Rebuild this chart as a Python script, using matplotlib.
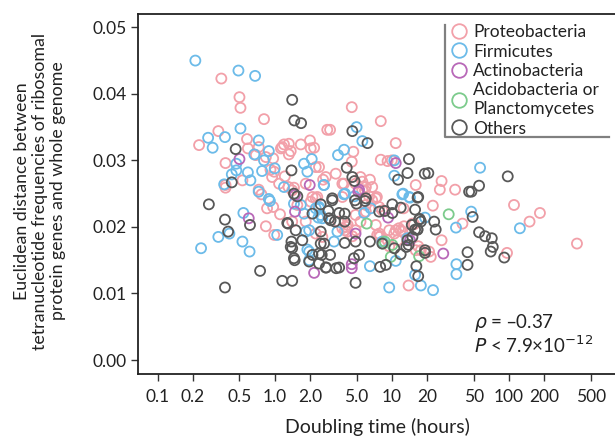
import numpy as np
import matplotlib
matplotlib.use("Agg")
from matplotlib import pyplot as plt
from matplotlib.lines import Line2D

plt.rcParams['font.family'] = ['Lato', 'DejaVu Sans']
plt.rcParams['mathtext.fontset'] = 'dejavusans'

# doubling time (hours), distance
proteo_x = [0.35, 0.50, 0.51, 0.81, 2.81, 0.33, 0.226, 0.58, 0.59, 0.73, 0.69, 0.84, 0.97, 0.38,
            0.53, 0.38, 0.38, 0.92, 0.95, 0.99, 1.16, 1.20, 1.32, 1.37, 1.32, 1.13, 1.67, 2.0,
            2.03, 2.17, 2.24, 2.59, 1.22, 1.31, 1.09, 1.46, 1.41, 1.84, 2.1, 2.31, 0.73, 0.77,
            4.55, 8.05, 2.97, 10.8, 4.69, 4.55, 8.05, 9.2, 10.0, 3.32, 5.4, 6.5, 5.6, 4.9,
            16.0, 26.6, 25.7, 34.7, 2.39, 3.9, 6.0, 5.6, 7.45, 3.78, 5.9, 6.4, 7.3, 6.0,
            22.4, 12.6, 8.3, 40.1, 110.5, 150, 184, 381, 96.3, 26.6, 20.8, 21.5, 13.9, 9.5,
            10.8, 9.5, 11.9, 7.8, 16.0, 17.7, 16.8, 15.5, 11.5, 10.5, 7.3, 7.5, 3.98, 4.9,
            4.2, 3.49, 4.1, 4.17, 4.9, 5.4, 4.6, 7.95, 12.7, 15.0, 9.2, 11.2, 12.3, 0.84,
            0.99, 0.86, 0.97, 1.11, 1.56, 2.03, 2.24, 1.41, 1.84, 2.24, 2.55, 2.73, 3.78, 6.8,
            6.8, 7.8, 6.0, 7.8, 3.78]
proteo_y = [0.0423, 0.0395, 0.0379, 0.0362, 0.0346, 0.0344, 0.0323, 0.0332, 0.0318, 0.0320, 0.0308, 0.0305, 0.0303, 0.0296,
            0.0270, 0.0263, 0.0259, 0.0286, 0.0275, 0.0283, 0.0320, 0.0324, 0.0325, 0.0314, 0.0309, 0.0318, 0.0324, 0.0330,
            0.0318, 0.0319, 0.0290, 0.0271, 0.0276, 0.0260, 0.0265, 0.0259, 0.0255, 0.0265, 0.0245, 0.0245, 0.0256, 0.0249,
            0.0380, 0.0359, 0.0346, 0.0326, 0.0313, 0.0298, 0.0301, 0.0299, 0.0300, 0.0280, 0.0275, 0.0271, 0.0268, 0.0265,
            0.0263, 0.0269, 0.0256, 0.0256, 0.0290, 0.0265, 0.0260, 0.0255, 0.0245, 0.0245, 0.0255, 0.0246, 0.0243, 0.0233,
            0.0232, 0.0228, 0.0225, 0.0205, 0.0233, 0.0208, 0.0221, 0.0175, 0.0161, 0.0180, 0.0163, 0.0155, 0.0112, 0.0171,
            0.0195, 0.0195, 0.0195, 0.0185, 0.0165, 0.0165, 0.0171, 0.0204, 0.0198, 0.0190, 0.0203, 0.0188, 0.0195, 0.0195,
            0.0203, 0.0208, 0.0200, 0.0193, 0.0218, 0.0208, 0.0186, 0.0186, 0.0201, 0.0205, 0.0180, 0.0180, 0.0193, 0.0201,
            0.0188, 0.0228, 0.0230, 0.0219, 0.0233, 0.0238, 0.0243, 0.0208, 0.0208, 0.0190, 0.0185, 0.0275, 0.0265, 0.0260,
            0.0240, 0.0230, 0.0223, 0.0190, 0.0198]

firmi_x = [0.21, 0.49, 0.68, 0.51, 0.27, 0.295, 0.376, 0.73, 0.89, 0.67, 0.81, 0.47, 0.47, 0.43,
           0.59, 0.62, 0.37, 0.78, 1.0, 1.78, 1.90, 2.07, 1.2, 2.64, 0.89, 5.0, 5.6, 3.47,
           3.91, 10.5, 10.5, 2.62, 3.9, 12.3, 14.1, 56.7, 3.98, 12.5, 14.3, 4.8, 5.8, 6.6,
           19.2, 47.6, 35.3, 124, 35.6, 35.6, 15.8, 17.7, 22.5, 9.5, 6.5, 10.8, 13.6, 2.39,
           2.55, 3.21, 3.43, 0.54, 0.33, 0.41, 0.53, 0.61, 0.235, 1.05, 0.91, 0.73, 1.46, 1.78,
           1.90, 1.97, 2.24, 2.36, 1.84, 1.97, 1.67, 2.39, 2.47, 1.97, 8.3]
firmi_y = [0.0450, 0.0435, 0.0427, 0.0348, 0.0334, 0.0319, 0.0335, 0.0330, 0.0314, 0.0309, 0.0300, 0.0295, 0.0285, 0.0279,
           0.0282, 0.0270, 0.0264, 0.0284, 0.0288, 0.0295, 0.0283, 0.0302, 0.0260, 0.0263, 0.0242, 0.0350, 0.0329, 0.0308,
           0.0316, 0.0300, 0.0277, 0.0263, 0.0249, 0.0249, 0.0245, 0.0289, 0.0250, 0.0250, 0.0244, 0.0246, 0.0221, 0.0228,
           0.0214, 0.0223, 0.0199, 0.0198, 0.0144, 0.0129, 0.0128, 0.0112, 0.0105, 0.0109, 0.0141, 0.0149, 0.0183, 0.0228,
           0.0213, 0.0178, 0.0193, 0.0221, 0.0185, 0.0190, 0.0178, 0.0163, 0.0168, 0.0188, 0.0239, 0.0253, 0.0235, 0.0220,
           0.0166, 0.0150, 0.0228, 0.0214, 0.0193, 0.0163, 0.0233, 0.0230, 0.0218, 0.0195, 0.0178]

actino_x = [0.50, 1.99, 10.8, 5.25, 5.17, 9.3, 27.5, 4.55, 4.55, 14.3, 4.9, 0.60, 1.49, 2.17, 1.49]
actino_y = [0.0302, 0.0263, 0.0296, 0.0256, 0.0253, 0.0214, 0.0160, 0.0144, 0.0138, 0.0180, 0.0190, 0.0213, 0.0223, 0.0131, 0.0248]

acido_x = [30.6, 9.8, 17.1, 8.4, 10.1, 6.1, 8.7]
acido_y = [0.0219, 0.0155, 0.0156, 0.0175, 0.0173, 0.0205, 0.0178]

other_x = [1.41, 1.47, 1.68, 0.464, 0.43, 1.39, 1.46, 1.56, 4.6, 6.2, 14.0, 4.12, 4.6, 4.8,
           11.3, 13.6, 19.1, 20.5, 45.7, 3.1, 6.0, 16.8, 97.7, 47.8, 55.6, 5.9, 4.85, 5.0,
           16.6, 10.1, 11.9, 15.8, 8.7, 7.8, 10.1, 3.96, 17.3, 16.6, 23.0, 23.7, 49, 55.6,
           62.5, 71.4, 72.8, 69.9, 91.2, 44.3, 44.3, 19.2, 16.2, 16.8, 7.95, 8.9, 6.5, 4.9,
           3.96, 4.9, 5.25, 4.75, 3.55, 11.9, 13.9, 13.6, 14.8, 17.1, 15.8, 3.55, 3.96, 2.47,
           2.87, 2.91, 3.27, 2.47, 2.64, 2.97, 2.75, 3.35, 2.52, 8.3, 10.5, 13.3, 15.0, 16.5,
           17.7, 19.2, 0.274, 0.376, 0.40, 0.615, 0.75, 0.376, 1.16, 1.41, 1.30, 1.41, 1.51, 1.48,
           1.72, 1.39, 2.1, 2.47, 2.39, 2.73, 1.97, 1.28, 1.37, 1.46, 2.1, 3.0, 3.1, 2.39]
other_y = [0.0391, 0.0360, 0.0356, 0.0317, 0.0267, 0.0285, 0.0250, 0.0246, 0.0344, 0.0326, 0.0302, 0.0289, 0.0275, 0.0269,
           0.0271, 0.0281, 0.0280, 0.0281, 0.0253, 0.0243, 0.0243, 0.0245, 0.0276, 0.0253, 0.0262, 0.0239, 0.0240, 0.0235,
           0.0244, 0.0234, 0.0229, 0.0226, 0.0224, 0.0223, 0.0221, 0.0220, 0.0212, 0.0196, 0.0208, 0.0196, 0.0215, 0.0192,
           0.0186, 0.0183, 0.0170, 0.0163, 0.0154, 0.0162, 0.0143, 0.0165, 0.0141, 0.0126, 0.0140, 0.0143, 0.0178, 0.0178,
           0.0176, 0.0116, 0.0158, 0.0153, 0.0139, 0.0159, 0.0173, 0.0180, 0.0203, 0.0211, 0.0196, 0.0221, 0.0208, 0.0234,
           0.0224, 0.0213, 0.0208, 0.0193, 0.0175, 0.0158, 0.0139, 0.0138, 0.0158, 0.0175, 0.0168, 0.0170, 0.0185, 0.0196,
           0.0208, 0.0161, 0.0234, 0.0211, 0.0193, 0.0203, 0.0134, 0.0109, 0.0119, 0.0119, 0.0205, 0.0168, 0.0195, 0.0150,
           0.0180, 0.0178, 0.0220, 0.0175, 0.0160, 0.0139, 0.0148, 0.0206, 0.0170, 0.0153, 0.0158, 0.0210, 0.0240, 0.0145]

groups = ['Proteobacteria', 'Firmicutes', 'Actinobacteria', 'Acidobacteria or\nPlanctomycetes', 'Others']
colors = ['#f2a0a9', '#6cbbe9', '#b868b8', '#7ccb8c', '#585858']
xs = [proteo_x, firmi_x, actino_x, acido_x, other_x]
ys = [proteo_y, firmi_y, actino_y, acido_y, other_y]

xticks = [0.1, 0.2, 0.5, 1, 2, 5, 10, 20, 50, 100, 200, 500]
xticklabels = ['0.1', '0.2', '0.5', '1.0', '2.0', '5.0', '10', '20', '50', '100', '200', '500']
yticks = [0.00, 0.01, 0.02, 0.03, 0.04, 0.05]

fig = plt.figure(figsize=(6.15, 4.38), dpi=100)
ax = fig.add_axes([138/615, 64/438, 1 - 138/615, 360/438])

for x, y, c in zip(xs, ys, colors):
    ax.scatter(x, y, s=52, facecolors='none', edgecolors=c, linewidths=1.3)

ax.set_xscale('log')
ax.set_xlim(0.068, 805)
ax.set_ylim(-0.0021, 0.052)
ax.set_xticks(xticks)
ax.set_xticklabels(xticklabels)
ax.minorticks_off()
ax.set_yticks(yticks)
ax.set_yticklabels(['%.2f' % v for v in yticks])
ax.tick_params(labelsize=12.5, length=5, width=1, color='#333333', labelcolor='#222222', pad=3)
ax.tick_params(axis='x', pad=6)
for s in ['left', 'bottom', 'top']:
    ax.spines[s].set_linewidth(1.3)
    ax.spines[s].set_color('#222222')
ax.spines['right'].set_visible(False)

# legend
handles = [Line2D([], [], marker='o', linestyle='none', markersize=10.5, markerfacecolor='none',
                  markeredgecolor=c, markeredgewidth=1.3) for c in colors]
leg = ax.legend(handles, groups, loc='upper left', bbox_to_anchor=(0.655, 0.972), frameon=False,
                borderpad=0, borderaxespad=0, handlelength=1.0, handletextpad=0.3,
                labelspacing=0.2, fontsize=12.5)
for t in leg.get_texts():
    t.set_color('#222222')
ax.plot([0.644, 0.644, 0.987], [0.969, 0.658, 0.658], transform=ax.transAxes,
        color='#808080', lw=1.6, clip_on=False)

ax.text(0.704, 0.142, r'$\rho$ = –0.37', transform=ax.transAxes, fontsize=13.5,
        va='center', color='#222222')
ax.text(0.704, 0.081, r'$P$ < 7.9×10$^{-12}$', transform=ax.transAxes, fontsize=13.5,
        va='center', color='#222222')

fig.text(40/615, 1 - 191/438,
         'Euclidean distance between\ntetranucleotide frequencies of ribosomal\nprotein genes and whole genome',
         rotation=90, ha='center', va='center', multialignment='center', fontsize=12.8, color='#222222',
         linespacing=1.12)
fig.text(377/615, 1 - 427/438, 'Doubling time (hours)', ha='center', va='center', fontsize=14,
         color='#222222')

fig.savefig('out.png', dpi=100)
